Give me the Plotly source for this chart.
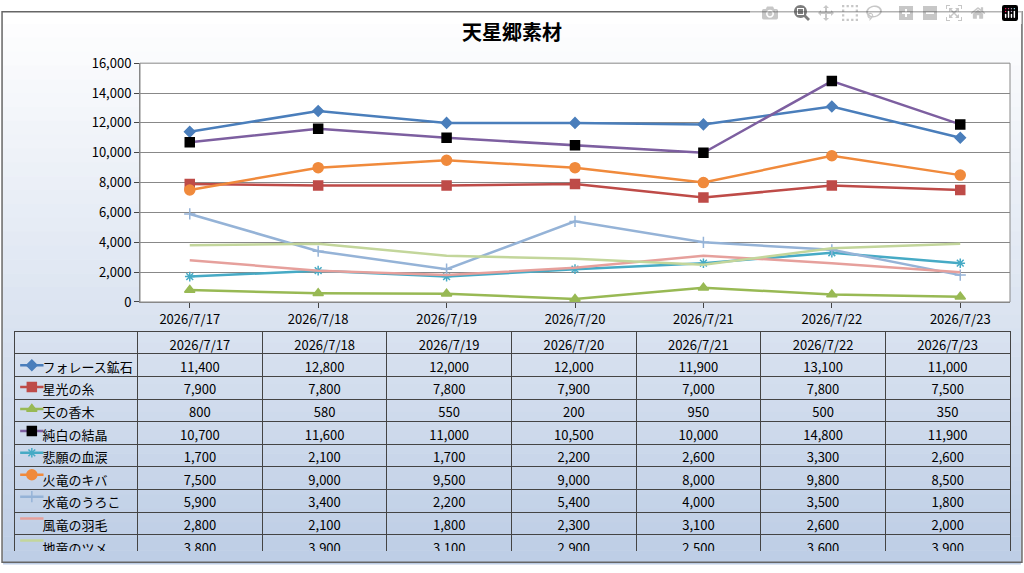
import plotly.graph_objects as go

dates = ["2026/7/17", "2026/7/18", "2026/7/19", "2026/7/20", "2026/7/21", "2026/7/22", "2026/7/23"]
names = ["フォレース鉱石", "星光の糸", "天の香木", "純白の結晶", "悲願の血涙",
         "火竜のキバ", "水竜のうろこ", "風竜の羽毛", "地竜のツメ"]
ore = [11400, 12800, 12000, 12000, 11900, 13100, 11000]
thread = [7900, 7800, 7800, 7900, 7000, 7800, 7500]
incense = [800, 580, 550, 200, 950, 500, 350]
crystal = [10700, 11600, 11000, 10500, 10000, 14800, 11900]
tears = [1700, 2100, 1700, 2200, 2600, 3300, 2600]
fang = [7500, 9000, 9500, 9000, 8000, 9800, 8500]
scale = [5900, 3400, 2200, 5400, 4000, 3500, 1800]
feather = [2800, 2100, 1800, 2300, 3100, 2600, 2000]
claw = [3800, 3900, 3100, 2900, 2500, 3600, 3900]
series = [ore, thread, incense, crystal, tears, fang, scale, feather, claw]

line_colors = ["#4a7ebb", "#be4b48", "#98b954", "#7d5fa0", "#46aac5",
               "#f08a3c", "#95b3d7", "#e6a09c", "#c3d69b"]
marker_colors = ["#4a7ebb", "#be4b48", "#98b954", "#000000", "#46aac5",
                 "#f08a3c", "#95b3d7", "#e6a09c", "#c3d69b"]
symbols = ["diamond", "square", "triangle-up", "square", "asterisk-open",
           "circle", "cross-thin-open", None, None]
sizes = [8, 9, 9, 9, 8, 10, 8, 0, 0]

FONT = "Noto Sans CJK JP"
fig = go.Figure()

for n, v, lc, mc, s, sz in zip(names, series, line_colors, marker_colors, symbols, sizes):
    mode = "lines+markers" if s else "lines"
    fig.add_trace(go.Scatter(
        x=dates, y=v, name=n, mode=mode,
        line=dict(color=lc, width=2.5),
        marker=dict(symbol=s or "circle", size=sz, color=mc,
                    line=dict(color=mc, width=1.5)),
        showlegend=False))

# table
W, H = 1024, 573
fig.add_trace(go.Table(
    domain=dict(x=[14 / W, 1010 / W], y=[1 - 560 / H, 1 - 333 / H]),
    columnwidth=[123] + [124] * 7,
    header=dict(values=[""] + dates, height=22,
                fill_color="rgba(0,0,0,0)", line_color="#444",
                font=dict(family=FONT, size=13, color="black"), align="center"),
    cells=dict(values=[["\u00a0" * 7 + n for n in names]] +
               [[f"{s[i]:,}" for s in series] for i in range(7)],
               height=22.6, fill_color="rgba(0,0,0,0)", line_color="#444",
               font=dict(family=FONT, size=13, color="black"),
               align=["left"] + ["center"] * 7)))

# legend keys in the table's first column
for i, (lc, mc, s, sz) in enumerate(zip(line_colors, marker_colors, symbols, sizes)):
    fig.add_trace(go.Scatter(
        x=[0.05, 0.24], y=[i, i], mode="lines", xaxis="x2", yaxis="y2",
        line=dict(color=lc, width=2.5), showlegend=False, hoverinfo="skip"))
    if s:
        fig.add_trace(go.Scatter(
            x=[0.145], y=[i], mode="markers", xaxis="x2", yaxis="y2",
            marker=dict(symbol=s, size=sz, color=mc, line=dict(color=mc, width=1.5)),
            showlegend=False, hoverinfo="skip"))

# background gradient bands
shapes = []
n_b = 40
for k in range(n_b):
    t = k / (n_b - 1)
    r = int(255 - t * (255 - 190)); g = int(255 - t * (255 - 206)); b = int(255 - t * (255 - 230))
    shapes.append(dict(type="rect", xref="paper", yref="paper", layer="below",
                       x0=0.003, x1=0.997, y0=1 - (k + 1) / n_b - 0.001, y1=1 - k / n_b,
                       fillcolor=f"rgb({r},{g},{b})", line_width=0))
shapes.append(dict(type="rect", xref="paper", yref="paper", layer="below",
                   x0=140 / W, x1=1010 / W, y0=1 - 302 / H, y1=1 - 55 / H,
                   fillcolor="white", line=dict(color="#888", width=1)))
shapes.append(dict(type="rect", xref="paper", yref="paper", x0=0.002, x1=0.998,
                   y0=0.003, y1=0.997, line=dict(color="#666", width=1.5)))

fig.update_layout(
    width=W, height=H, margin=dict(l=0, r=0, t=0, b=0),
    paper_bgcolor="white", plot_bgcolor="rgba(0,0,0,0)",
    title=dict(text="<b>天星郷素材</b>", x=0.5, y=0.955, xanchor="center",
               font=dict(family=FONT, size=20, color="black")),
    font=dict(family=FONT, size=13, color="black"),
    xaxis=dict(domain=[140 / W, 1010 / W], showgrid=False, ticks="outside",
               linecolor="#888", tickfont=dict(size=13)),
    yaxis=dict(domain=[1 - 302 / H, 1 - 55 / H], range=[0, 16000], dtick=2000,
               tickformat=",", gridcolor="#888", linecolor="#888",
               showline=True, ticks="outside", tickfont=dict(size=13)),
    xaxis2=dict(domain=[14 / W, 137 / W], range=[0, 1], visible=False, fixedrange=True),
    yaxis2=dict(domain=[1 - 560 / H, 1 - 356 / H], range=[8.5, -0.5],
                visible=False, fixedrange=True),
    shapes=shapes)

fig.write_html("out.html")

# drop the page margin so the figure fills the window exactly
with open("out.html", encoding="utf-8") as f:
    page = f.read()
page = page.replace("<head>", "<head><style>body{margin:0;overflow:hidden}</style>", 1)
with open("out.html", "w", encoding="utf-8") as f:
    f.write(page)
